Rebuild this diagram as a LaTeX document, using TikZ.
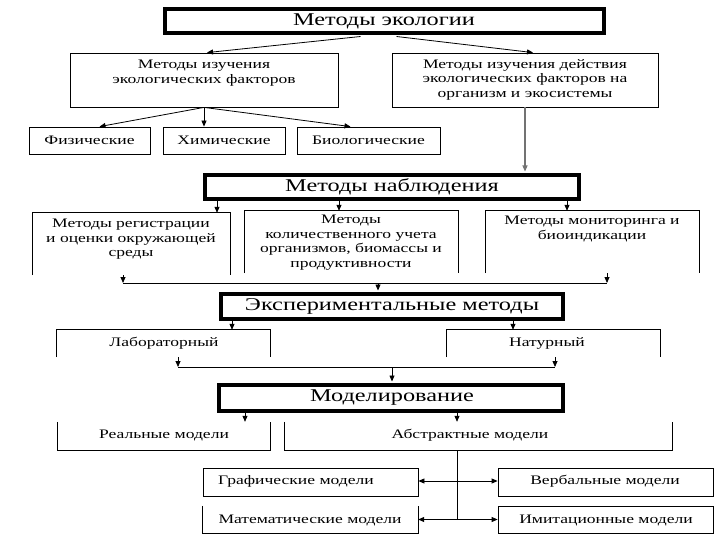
\documentclass[tikz,border=0pt]{standalone}
\usepackage{fontspec}
\setmainfont{Liberation Serif}[FakeStretch=1.35]
\usetikzlibrary{arrows.meta,fit,calc}
\newcommand{\mkbox}[6]{\coordinate (#1-a) at (#2,#3); \coordinate (#1-b) at (#4,#5); \node[fit=(#1-a)(#1-b), inner sep=0pt, #6] (#1) {};}
\begin{document}
\begin{tikzpicture}[x=1pt,y=-1pt,
  thickbox/.style={draw, line width=3.5pt},
  thinbox/.style={draw, line width=0.8pt},
  nobox/.style={},
  side/.style={line width=0.8pt},
  big/.style={font=\fontsize{18}{20}\selectfont, inner sep=0pt},
  small/.style={font=\fontsize{13}{14.6}\selectfont, inner sep=0pt, align=center},
  arr/.style={line width=0.8pt, -{Triangle[length=6pt,width=5pt]}},
  dbl/.style={line width=0.8pt, {Triangle[length=6pt,width=5pt]}-{Triangle[length=6pt,width=5pt]}},
  ln/.style={line width=0.8pt}]
\useasboundingbox (0,0) rectangle (720,540);
% boxes
\mkbox{top}{165}{9}{604}{33}{thickbox}
\mkbox{lf}{70}{53}{338}{107}{thinbox}
\mkbox{rb}{392}{53}{658}{107}{thinbox}
\mkbox{phys}{29}{127}{150}{154}{thinbox}
\mkbox{chem}{163}{127}{285}{154}{thinbox}
\mkbox{bio}{297}{127}{440}{154}{thinbox}
\mkbox{nab}{205}{175}{579}{199}{thickbox}
\mkbox{m1}{33}{213}{230}{275}{nobox}
\mkbox{m2}{245}{211}{458}{273}{nobox}
\mkbox{m3}{486}{211}{699}{273}{nobox}
\mkbox{exp}{221}{294}{563}{319}{thickbox}
\mkbox{lab}{57}{330}{270}{357}{nobox}
\mkbox{nat}{447}{330}{660}{357}{nobox}
\mkbox{mod}{219}{385}{563}{411}{thickbox}
\mkbox{real}{58}{422}{270}{450}{nobox}
\mkbox{abst}{285}{422}{672}{450}{nobox}
\mkbox{graf}{203}{468}{418}{496}{thinbox}
\mkbox{verb}{498}{468}{713}{496}{thinbox}
\mkbox{math}{203}{506}{418}{533}{nobox}
\mkbox{imit}{498}{506}{713}{533}{thinbox}
% open-bottom boxes
\foreach \b in {m1,m2,m3,lab,nat}
  \draw[side] (\b.south west) -- (\b.north west) -- (\b.north east) -- (\b.south east);
% open-top boxes
\foreach \b in {real,abst,math}
  \draw[side] (\b.north west) -- (\b.south west) -- (\b.south east) -- (\b.north east);
% texts
\node[big] (t-top) at (384,21) {Методы экологии};
\node[small, anchor=north] (t-lf) at (204,60) {Методы изучения\\экологических факторов};
\node[small, anchor=north] (t-rb) at (525,59) {Методы изучения действия\\экологических факторов на\\организм и экосистемы};
\node[small] (t-phys) at (phys.center) {Физические};
\node[small] (t-chem) at (chem.center) {Химические};
\node[small] (t-bio) at (bio.center) {Биологические};
\node[big] (t-nab) at (392,187) {Методы наблюдения};
\node[small, anchor=north] (t-m1) at (131,219) {Методы регистрации\\и оценки окружающей\\среды};
\node[small, anchor=north] (t-m2) at (351,215) {Методы\\количественного учета\\организмов, биомассы и\\продуктивности};
\node[small, anchor=north] (t-m3) at (592,216) {Методы мониторинга и\\биоиндикации};
\node[big] (t-exp) at (392,306) {Экспериментальные методы};
\node[small] (t-lab) at (164,343) {Лабораторный};
\node[small] (t-nat) at (547,343) {Натурный};
\node[big] (t-mod) at (392,398) {Моделирование};
\node[small] (t-real) at (164,435) {Реальные модели};
\node[small] (t-abst) at (470,435) {Абстрактные модели};
\node[small] (t-graf) at (296,481) {Графические модели};
\node[small] (t-verb) at (605,481) {Вербальные модели};
\node[small] (t-math) at (310,520) {Математические модели};
\node[small] (t-imit) at (606,520) {Имитационные модели};
% connectors level 1
\draw[arr] ($(top.south)+(-24,1.75)$) -- ($(lf.north)+(3,0)$);
\draw[arr] ($(top.south)+(12,1.75)$) -- ($(rb.north)+(8,0)$);
\draw[arr] (lf.south) -- ($(phys.north)+(10,0)$);
\draw[arr] (lf.south) -- (lf.south |- chem.north);
\draw[arr] (lf.south) -- ($(bio.north)+(-18,0)$);
\draw[arr, draw=black!55, line width=1.1pt] (rb.south) -- ($(rb.south |- nab.north)+(0,-1.75)$);
% observation level
\coordinate (o1) at (217,200.75);
\coordinate (o2) at (339,200.75);
\coordinate (o3) at (567,200.75);
\draw[arr] (o1) -- (o1 |- m1.north);
\draw[arr] (o2) -- (o2 |- m2.north);
\draw[arr] (o3) -- (o3 |- m3.north);
\coordinate (j1) at (123,283);
\coordinate (j2) at (607,283);
\coordinate (j3) at (378,283);
\draw[arr] (j1 |- m1.south) -- (j1);
\draw[arr] (j2 |- m3.south) -- (j2);
\draw[ln] (j1) -- (j2);
\draw[arr] (j3) -- ($(j3 |- exp.north)+(0,-1.75)$);
% experimental level
\coordinate (e1) at (232,320.75);
\coordinate (e2) at (513,320.75);
\draw[arr] (e1) -- (e1 |- lab.north);
\draw[arr] (e2) -- (e2 |- nat.north);
\coordinate (k1) at (178,367);
\coordinate (k2) at (555,367);
\coordinate (k3) at (392,367);
\draw[arr] (k1 |- lab.south) -- (k1);
\draw[arr] (k2 |- nat.south) -- (k2);
\draw[ln] (k1) -- (k2);
\draw[arr] (k3) -- ($(k3 |- mod.north)+(0,-1.75)$);
% modelling level
\coordinate (d1) at (245,412.75);
\coordinate (d2) at (457,412.75);
\draw[arr] (d1) -- (d1 |- real.north);
\draw[arr] (d2) -- (d2 |- abst.north);
\coordinate (v1) at (457,481);
\coordinate (v2) at (457,519.5);
\draw[ln] (d2 |- abst.south) -- (v2);
\draw[dbl] (graf.east |- v1) -- (verb.west |- v1);
\draw[dbl] (math.east |- v2) -- (imit.west |- v2);
\end{tikzpicture}
\end{document}
